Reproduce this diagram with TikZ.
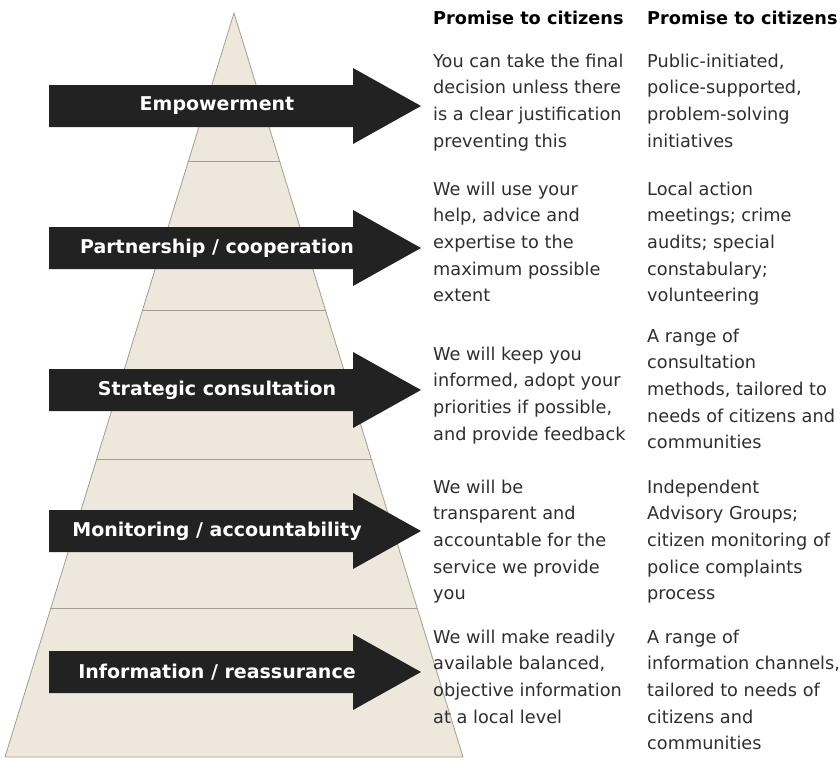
\documentclass[tikz,border=0pt]{standalone}
\usepackage{fontspec}
\setmainfont{DejaVu Sans}
\usetikzlibrary{calc}
\definecolor{sand}{HTML}{EDE8DB}
\definecolor{rim}{HTML}{A39D91}
\definecolor{ink}{HTML}{222222}
\definecolor{prose}{HTML}{2E2E2E}
\tikzset{
	level arrow/.style={fill=ink, draw=none},
	level label/.style={text=white, inner sep=0, font=\bfseries\fontsize{19}{22}\selectfont},
	layer line/.style={draw=rim, line width=1.2pt},
	promise/.style={anchor=north west, align=left, inner sep=0, text=prose, font=\fontsize{17.7}{26.7}\selectfont},
	promise head/.style={anchor=base west, inner sep=0, text=black, font=\bfseries\fontsize{17.7}{26.7}\selectfont},
}
\def\levelarrow(#1)#2#3{\fill[level arrow] (49,#1-21) -- (353,#1-21) -- (353,#1-38) -- (421,#1) -- (353,#1+38) -- (353,#1+21) -- (49,#1+21) -- cycle;
	\node[level label] (#2) at (217,#1) {#3};}

\begin{document}
\begin{tikzpicture}[x=1pt, y=-1pt]
			%%%%% START %%%%%
			\useasboundingbox (0, 0) rectangle (840, 760);
			
			% pyramid
			\coordinate (top) at (234, 13);
			\coordinate (botL) at (5, 757);
			\coordinate (botR) at (463, 757);
			\draw[fill=sand, draw=rim, line width=0.8pt] (top) -- (botR) -- (botL) -- cycle;
			\draw[layer line] ($(top)!0.2!(botL)$) -- ($(top)!0.2!(botR)$);
			\draw[layer line] ($(top)!0.4!(botL)$) -- ($(top)!0.4!(botR)$);
			\draw[layer line] ($(top)!0.6!(botL)$) -- ($(top)!0.6!(botR)$);
			\draw[layer line] ($(top)!0.8!(botL)$) -- ($(top)!0.8!(botR)$);
			
			% arrows
			\levelarrow(106){empower}{Empowerment}
			\levelarrow(248){partner}{Partnership / cooperation}
			\levelarrow(390){consult}{Strategic consultation}
			\levelarrow(531){monitor}{Monitoring / accountability}
			\levelarrow(672){inform}{Information / reassurance}
			
			% columns
			\node[promise head] (headA) at (433, 24.5) {Promise to citizens};
			\node[promise head] (headB) at (647, 24.5) {Promise to citizens};
			
			\node[promise] (sayA1) at (433, 53.5) {You can take the final\\decision unless there\\is a clear justification\\preventing this};
			\node[promise] (sayB1) at (647, 53.5) {Public-initiated,\\police-supported,\\problem-solving\\initiatives};
			
			\node[promise] (sayA2) at (433, 181.5) {We will use your\\help, advice and\\expertise to the\\maximum possible\\extent};
			\node[promise] (sayB2) at (647, 181.5) {Local action\\meetings; crime\\audits; special\\constabulary;\\volunteering};
			
			\node[promise] (sayA3) at (433, 346.5) {We will keep you\\informed, adopt your\\priorities if possible,\\and provide feedback};
			\node[promise] (sayB3) at (647, 328.5) {A range of\\consultation\\methods, tailored to\\needs of citizens and\\communities};
			
			\node[promise] (sayA4) at (433, 479.5) {We will be\\transparent and\\accountable for the\\service we provide\\you};
			\node[promise] (sayB4) at (647, 479.5) {Independent\\Advisory Groups;\\citizen monitoring of\\police complaints\\process};
			
			\node[promise] (sayA5) at (433, 629.5) {We will make readily\\available balanced,\\objective information\\at a local level};
			\node[promise] (sayB5) at (647, 629.5) {A range of\\information channels,\\tailored to needs of\\citizens and\\communities};
			
			%%%%% END %%%%%
\end{tikzpicture}
\end{document}
